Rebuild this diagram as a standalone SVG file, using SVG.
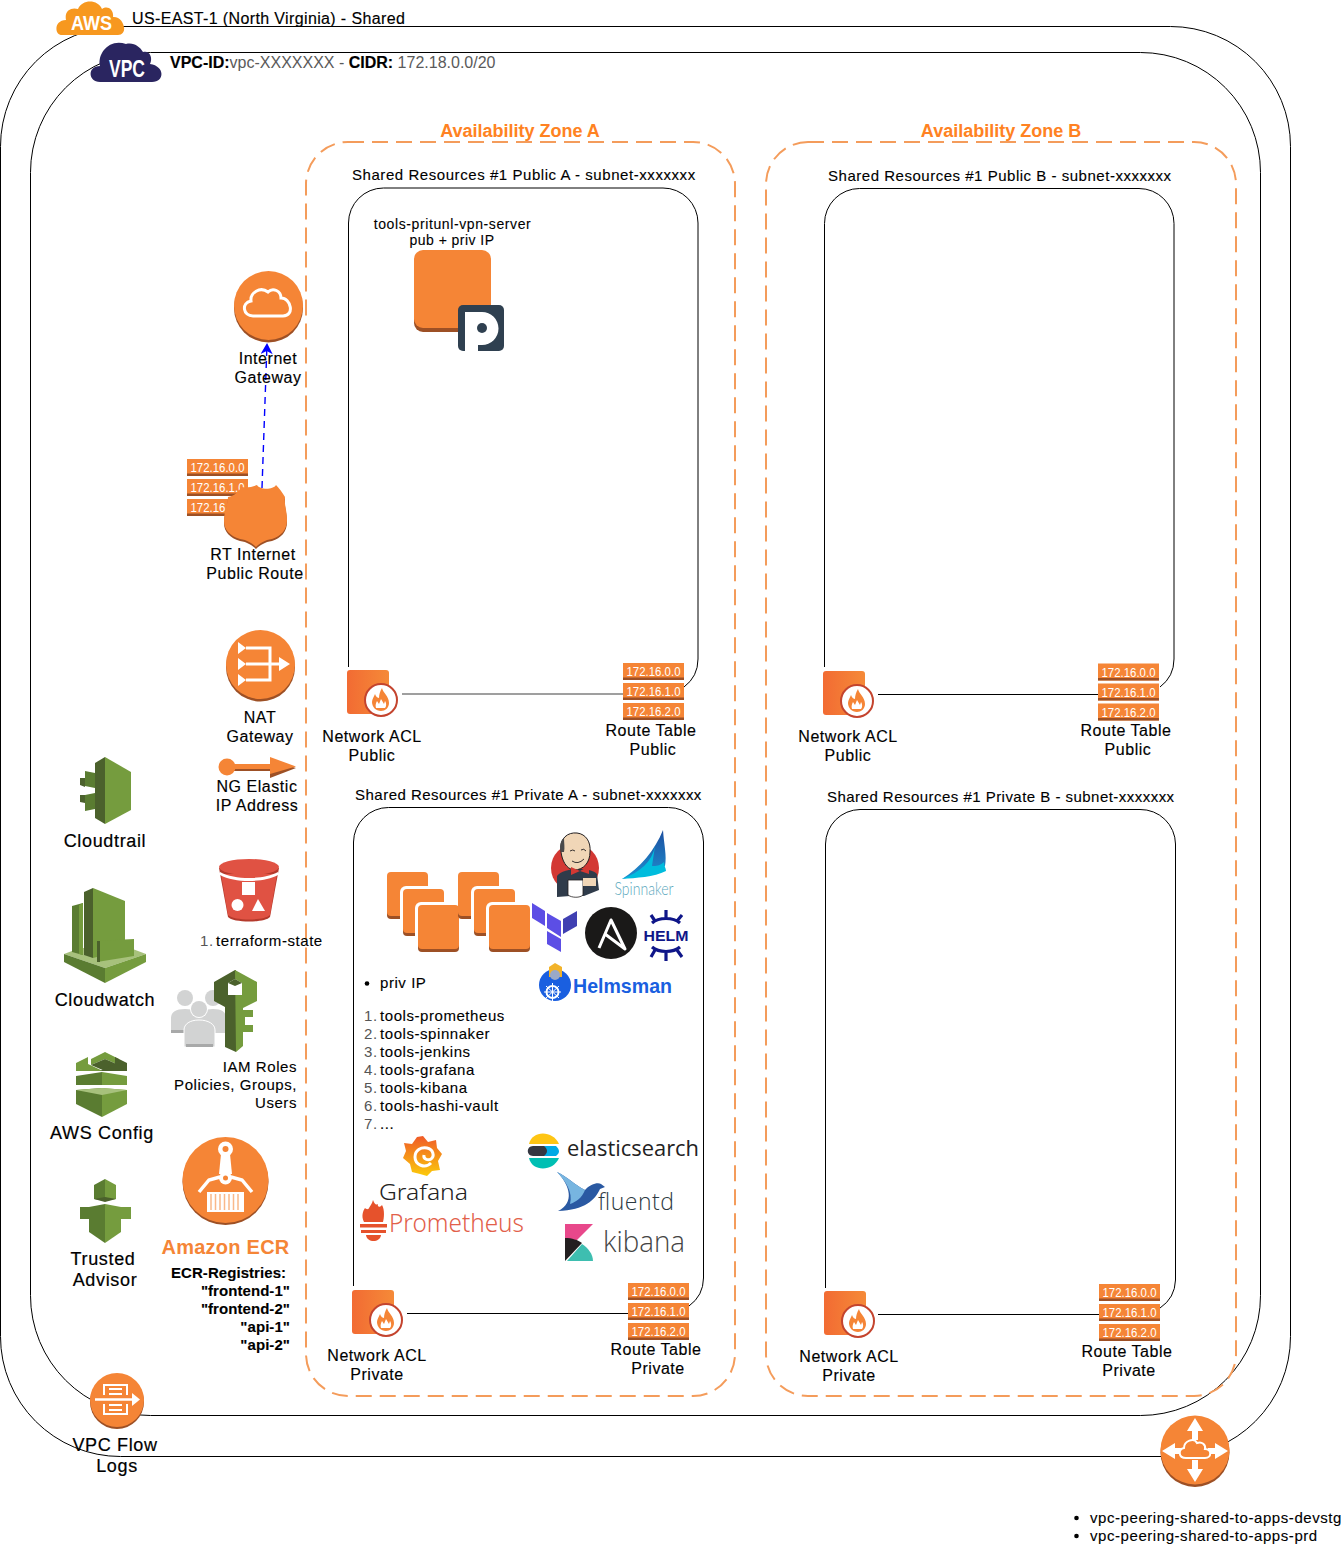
<svg xmlns="http://www.w3.org/2000/svg" xmlns:xlink="http://www.w3.org/1999/xlink" width="1341" height="1561" viewBox="0 0 1341 1561">
<style>
text{font-family:"Liberation Sans",Arial,sans-serif;fill:#000}
.l16{font-size:16px;letter-spacing:.55px;stroke:#000;stroke-width:.15px}
.l18{font-size:18px;letter-spacing:.65px;stroke:#000;stroke-width:.2px}
.l15{font-size:15px;letter-spacing:.56px;stroke:#000;stroke-width:.12px}
.l14{font-size:14px;letter-spacing:.6px;stroke:#000;stroke-width:.1px}
.m{text-anchor:middle}
.e{text-anchor:end}
.b{font-weight:bold}
.ip{font-size:12px;fill:#fff}
.az{font-size:18px;font-weight:bold;fill:#FF8222;text-anchor:middle}
.frame{fill:none;stroke:#000;stroke-width:1}
.dash{fill:none;stroke:#F49C5B;stroke-width:2;stroke-dasharray:16 8}
.or{fill:#F58536}.dk{fill:#9D5025}
.w{fill:#fff}.ws{fill:none;stroke:#fff}
.g1{fill:#759C3E}.g2{fill:#4B612C}.g3{fill:#5A7C31}.g4{fill:#A7C17C}
.u{fill:#D2D3D3}.u2{fill:#A8A9A9}
.n{fill:#555;stroke:none}
</style>
<defs>
<marker id="blueArrow" markerWidth="13" markerHeight="13" refX="10" refY="6" orient="auto" markerUnits="userSpaceOnUse"><path d="M0,0L11,6L0,12L3,6Z" fill="#00f"/></marker>
<linearGradient id="naclG" x1="0" x2="1" y1="0" y2="0"><stop offset="0" stop-color="#F26B33"/><stop offset="1" stop-color="#F58A38"/></linearGradient>
<linearGradient id="grafG" x1="0" x2="0" y1="0" y2="1"><stop offset="0" stop-color="#F05A28"/><stop offset="1" stop-color="#FBCA0A"/></linearGradient>
<linearGradient id="spinG" x1="0" x2="0" y1="0" y2="1"><stop offset="0" stop-color="#1D4FA0"/><stop offset="1" stop-color="#1E8FD0"/></linearGradient>
<g id="bars">
<rect width="61" height="17" class="or"/><rect y="14.500" width="61" height="2.500" class="dk"/>
<rect y="20" width="61" height="17" class="or"/><rect y="34.500" width="61" height="2.500" class="dk"/>
<rect y="40" width="61" height="17" class="or"/><rect y="54.500" width="61" height="2.500" class="dk"/>
</g>
<g id="nacl">
<rect width="42" height="44" rx="3" fill="url(#naclG)"/>
<circle cx="34" cy="30" r="16" fill="#fff" stroke="#C4442E" stroke-width="2"/>
<path d="M35,18C36,23 42,26 42,33C42,38 38,41 34,41C29,41 25,37 25,32C25,29 27,27 28,24C29,27 31,28 32,28C32,25 33,21 35,18Z" class="or"/>
<path d="M29,38C28,35 29,33 30,31L32,34L34,29L37,34L38,31C40,34 39,37 38,38Z" class="w"/>
</g>
<g id="ec2">
<rect y="3" width="41" height="44" rx="4" class="dk"/><rect width="41" height="44" rx="4" class="or"/>
</g>
<g id="ec2w">
<rect x="-3" y="-3" width="47" height="53" rx="6" class="w"/>
<use xlink:href="#ec2"/>
</g>
</defs>

<g id="containers">
<rect id="region-frame" class="frame" x=".5" y="26.5" width="1290" height="1430" rx="120" ry="120"/>
<rect id="vpc-frame" class="frame" x="30.5" y="52.5" width="1230" height="1363" rx="120" ry="120"/>
<rect id="az-a-frame" class="dash" x="306" y="142" width="429" height="1254" rx="42" ry="42"/>
<rect id="az-b-frame" class="dash" x="766" y="142" width="470" height="1254" rx="42" ry="42"/>
<path id="subnet-pub-a" class="frame" d="M348.500,667V223A35,35 0 0 1 383.500,188H663A35,35 0 0 1 698,223V659A35,35 0 0 1 684,687"/>
<path id="subnet-pub-b" class="frame" d="M824.500,667V223.500A35,35 0 0 1 859.500,188.500H1139A35,35 0 0 1 1174,223.500V659A35,35 0 0 1 1160,687"/>
<path id="subnet-priv-a" class="frame" d="M353.500,1286V842A35,35 0 0 1 388.500,807.500H668.500A35,35 0 0 1 703.500,842V1278A35,35 0 0 1 689,1306"/>
<path id="subnet-priv-b" class="frame" d="M825.500,1288V844A35,35 0 0 1 860,809.500H1140A35,35 0 0 1 1175.500,844V1280A35,35 0 0 1 1160,1308"/>
</g>

<g id="connectors">
<path d="M402,694H623" stroke="#000" stroke-opacity=".5" stroke-width="1.400" fill="none"/>
<path d="M878,694.500H1098" stroke="#000" fill="none"/>
<path d="M407,1313.500H628" stroke="#000" fill="none"/>
<path d="M878,1314.500H1100" stroke="#000" fill="none"/>
<path d="M262,488L267,344" stroke="#00f" stroke-width="1.400" stroke-dasharray="7 5" fill="none" marker-end="url(#blueArrow)"/>
</g>

<g id="region-node">
<path d="M62,35C54,35 54,20 66,20C64,10 72,7 78,9C82,-1 98,-1 102,9C108,5 114,10 113,17C124,16 129,35 118,35Z" fill="#F7981F"/>
<text x="71" y="30" font-size="21" class="b" style="fill:#fff" textLength="41" lengthAdjust="spacingAndGlyphs">AWS</text>
<text x="132" y="24" class="l16" style="letter-spacing:.37px">US-EAST-1 (North Virginia) - Shared</text>
</g>
<g id="vpc-node">
<path d="M100,82C88,82 87,66 100,66C97,53 110,38 126,44C134,42 140,47 143,52C150,50 153,58 150,64C165,66 165,82 152,82Z" fill="#2A2560"/>
<text x="109" y="77" font-size="23" class="b" style="fill:#fff" textLength="36" lengthAdjust="spacingAndGlyphs">VPC</text>
<text x="170" y="68" class="l16" style="letter-spacing:0"><tspan class="b">VPC-ID:</tspan><tspan style="fill:#5a5a5a;stroke:none">vpc-XXXXXXX - </tspan><tspan class="b">CIDR:</tspan><tspan style="fill:#5a5a5a;stroke:none"> 172.18.0.0/20</tspan></text>
</g>

<g id="igw">
<circle cx="268.500" cy="308" r="34.500" class="dk"/><circle cx="268.500" cy="305.500" r="34.500" class="or"/>
<path d="M253,316C243,316 241,303 251,301C250,293 260,286 268,292C273,287 281,291 281,298C291,298 295,316 283,316Z" class="ws" stroke-width="3"/>
<text x="268" y="364" class="l16 m">Internet</text><text x="268" y="383" class="l16 m">Gateway</text>
</g>

<g id="rt-internet">
<g transform="translate(187,459)"><use xlink:href="#bars"/><text x="3.500" y="13" class="ip" textLength="54" lengthAdjust="spacingAndGlyphs">172.16.0.0</text><text x="3.500" y="33" class="ip" textLength="54" lengthAdjust="spacingAndGlyphs">172.16.1.0</text><text x="3.500" y="53" class="ip" textLength="54" lengthAdjust="spacingAndGlyphs">172.16.2.0</text></g>
<path d="M228,499C234,498 239,494 241,489C247,490 252,489 257,487C260,492 273,492 276,487C279,490 282,494 285,499C284,506 287,513 287,522C287,532 281,538 272,541C265,542 260,545 256,549C252,545 247,542 240,541C230,538 224,532 224,523C224,513 228,506 228,499Z" class="dk"/>
<path d="M228,497C234,496 239,492 241,487C247,488 252,487 257,485C260,490 273,490 276,485C279,488 282,492 285,497C284,504 287,511 287,520C287,530 281,536 272,539C265,540 260,543 256,547C252,543 247,540 240,539C230,536 224,530 224,521C224,511 228,504 228,497Z" class="or"/>
<text x="253" y="560" class="l16 m">RT Internet</text><text x="255" y="579" class="l16 m">Public Route</text>
</g>

<g id="nat-gateway">
<circle cx="260.500" cy="667" r="34.500" class="dk"/><circle cx="260.500" cy="664.500" r="34.500" class="or"/>
<path d="M246,648H270V680H246M246,664H280" class="ws" stroke-width="3"/>
<path d="M238,642L246,648L238,654ZM238,658L246,664L238,670ZM238,674L246,680L238,686ZM279,657L290,664L279,671Z" class="w"/>
<text x="260" y="723" class="l16 m">NAT</text><text x="260" y="742" class="l16 m">Gateway</text>
</g>

<g id="eip">
<path d="M227,769H270V760L296,768L270,778V771H227Z" class="dk"/>
<circle cx="227" cy="767" r="8.500" class="or"/>
<rect x="227" y="764" width="44" height="5" class="or"/>
<path d="M270,757L296,766.500L270,774Z" class="or"/>
<text x="257" y="792" class="l16 m">NG Elastic</text><text x="257" y="811" class="l16 m">IP Address</text>
</g>

<g id="cloudtrail">
<path d="M105,757L131,772V810L105,824Z" class="g1"/><path d="M105,757L95,763V818L105,824Z" class="g2"/>
<path d="M85,771L95,773V788L85,786ZM85,795L95,793V809L85,811Z" class="g3"/>
<path d="M80,778L85,778V787L80,785ZM80,795L85,795V803L80,802Z" class="g2"/>
<text x="105" y="847" class="l18 m">Cloudtrail</text>
</g>

<g id="cloudwatch">
<path d="M64,954L80,948H130L146,954L105,968Z" class="g4"/>
<path d="M64,954L105,968V983L64,962Z" class="g3"/><path d="M146,954L105,968V983L146,962Z" class="g1"/>
<path d="M93,888L125,901V950L93,958Z" class="g1"/><path d="M93,888L84,892V955L93,958Z" class="g2"/>
<path d="M72,906L83,903V955L72,952Z" class="g3"/><path d="M79,905L83,903V955L79,954Z" class="g1"/>
<path d="M97,941L134,939V956L97,962Z" class="g1"/>
<path d="M97,941L100,941V962L97,962Z" class="g2"/>
<text x="105" y="1006" class="l18 m">Cloudwatch</text>
</g>

<g id="aws-config">
<path d="M105,1052L119,1059V1065L105,1059L91,1065V1059Z" class="g1"/><path d="M91,1065L105,1059L119,1065L105,1071Z" class="g2"/>
<path d="M76,1063L88,1057V1064L103,1071H76Z" class="g1"/><path d="M127,1063L115,1057V1064L100,1071H127Z" class="g2"/>
<path d="M76,1076L102,1072V1085H76Z" class="g3"/><path d="M127,1076L102,1072V1085H127Z" class="g1"/>
<path d="M76,1090L102,1088V1117L76,1104Z" class="g3"/><path d="M127,1090L102,1088V1117L127,1104Z" class="g1"/>
<path d="M76,1090L102,1088L127,1090L102,1095Z" class="g4"/>
<text x="102" y="1139" class="l18 m">AWS Config</text>
</g>

<g id="trusted-advisor">
<path d="M105,1179L94,1185V1199L105,1201Z" class="g3"/><path d="M105,1179L116,1185V1199L105,1201Z" class="g1"/>
<path d="M94,1199L105,1197L116,1199L105,1202Z" class="g2"/>
<path d="M105,1204L89,1207V1232L105,1243Z" class="g3"/><path d="M105,1204L121,1207V1232L105,1243Z" class="g1"/>
<path d="M80,1207H90V1219H80Z" class="g3"/><path d="M121,1207H131V1219H121Z" class="g1"/>
<text x="103" y="1265" class="l18 m">Trusted</text><text x="105" y="1286" class="l18 m">Advisor</text>
</g>

<g id="s3-state">
<path d="M219,868H279L270,917C265,923 233,923 228,917Z" fill="#B43A2C"/>
<path d="M221,874H277L270,915C264,921 234,921 228,915Z" fill="#E05243"/>
<path d="M220,872C235,880 263,880 278,872V875C263,883 235,883 220,875Z" class="w"/>
<ellipse cx="249" cy="867" rx="30" ry="8" fill="#E05243"/>
<rect x="242" y="882" width="13" height="13" class="w"/><circle cx="237.500" cy="905" r="6" class="w"/><path d="M258,899L265,911H252Z" class="w"/>
<text y="946" class="l15"><tspan x="200" class="n">1.</tspan><tspan x="216">terraform-state</tspan></text>
</g>

<g id="iam">
<circle cx="185" cy="998" r="8" class="u"/><circle cx="213" cy="998" r="8" class="u"/>
<path d="M171,1033V1018C171,1012 176,1009 185,1009C194,1009 200,1012 200,1018V1033Z" class="u"/><path d="M171,1030H186V1033H171Z" class="u2"/>
<path d="M200,1033V1018C200,1012 205,1009 213,1009C222,1009 226,1012 226,1018V1033Z" class="u"/>
<circle cx="199" cy="1009" r="9" fill="#fff"/><circle cx="199" cy="1009" r="8" class="u"/>
<path d="M184,1047V1030C184,1024 190,1020 199,1020C208,1020 215,1024 215,1030V1047Z" class="u" stroke="#fff"/><path d="M186,1044H213V1047H186Z" class="u2"/>
<path d="M235,970L214,982V1001L225,1007V1047L236,1052V970Z" class="g2"/>
<path d="M235,970L257,982V1001L243,1008V1010H253V1017H245V1025H253V1032H243V1046L236,1052Z" class="g1"/>
<path d="M228,983L235,979L242,983V995H228Z" fill="#fff"/>
<path d="M228,983L235,979L242,983L235,986Z" class="g2"/>
<text x="297" y="1072" class="l15 e">IAM Roles</text><text x="297" y="1090" class="l15 e">Policies, Groups,</text><text x="297" y="1108" class="l15 e">Users</text>
</g>

<g id="ecr">
<circle cx="225.500" cy="1182" r="43" class="dk"/><circle cx="225.500" cy="1180" r="43" class="or"/>
<path d="M221,1154H230L232,1174H219Z" class="w"/>
<circle cx="225.500" cy="1149" r="7.500" class="w"/><circle cx="225.500" cy="1149" r="3" class="or"/>
<circle cx="225.500" cy="1178" r="6.500" class="w"/><circle cx="225.500" cy="1178" r="2.500" class="or"/>
<path d="M199,1192L209,1180L220,1177M252,1192L242,1180L231,1177" class="ws" stroke-width="3.500"/>
<rect x="207" y="1192" width="37" height="20" class="w"/>
<path d="M211,1194V1210M215.500,1194V1210M220,1194V1210M224.500,1194V1210M229,1194V1210M233.500,1194V1210M238,1194V1210" stroke="#F9B98A" stroke-width="1.500"/>
<text x="225.500" y="1254" font-size="20" class="b m" style="fill:#F58536;letter-spacing:.25px">Amazon ECR</text>
<g class="l15 b" style="letter-spacing:.06px">
<text x="171" y="1278">ECR-Registries:</text>
<text x="290" y="1296" class="e">"frontend-1"</text>
<text x="290" y="1314" class="e">"frontend-2"</text>
<text x="290" y="1332" class="e">"api-1"</text>
<text x="290" y="1350" class="e">"api-2"</text>
</g>
</g>

<g id="flow-logs">
<circle cx="117" cy="1402" r="27" class="dk"/><circle cx="117" cy="1400" r="27" class="or"/>
<path d="M104,1395V1385H127V1395M104,1404V1414H127V1404" class="ws" stroke-width="2"/>
<path d="M109,1389H122M109,1394H122M109,1405H122M109,1410H122" class="ws" stroke-width="2"/>
<path d="M95,1399.500H133" class="ws" stroke-width="2.500"/><path d="M132,1393L140,1399.500L132,1406Z" class="w"/>
<text x="115" y="1451" class="l18 m">VPC Flow</text><text x="117" y="1472" class="l18 m">Logs</text>
</g>

<g id="peering">
<circle cx="1195" cy="1452.500" r="34.500" class="dk"/><circle cx="1195" cy="1450" r="34.500" class="or"/>
<path d="M1192,1430H1198V1440H1192ZM1192,1460H1198V1474H1192ZM1171,1448H1182V1454H1171ZM1208,1448H1220V1454H1208Z" class="w"/>
<path d="M1195,1418L1203,1431H1187ZM1195,1482L1187,1469H1203ZM1162,1451L1175,1443V1459ZM1228,1451L1215,1443V1459Z" class="w"/>
<path d="M1186,1458C1178,1458 1178,1449 1184,1448C1184,1441 1194,1437 1197,1443C1202,1441 1206,1445 1205,1449C1212,1449 1212,1458 1205,1458Z" fill="#F58536" stroke="#fff" stroke-width="2"/>
<circle cx="1076.500" cy="1518" r="2.300"/><circle cx="1076.500" cy="1536" r="2.300"/>
<text x="1090" y="1523" class="l15">vpc-peering-shared-to-apps-devstg</text>
<text x="1090" y="1541" class="l15">vpc-peering-shared-to-apps-prd</text>
</g>

<text x="520" y="137" class="az">Availability Zone A</text>
<text x="1001" y="137" class="az">Availability Zone B</text>

<g id="subnet-labels">
<text x="352" y="180" class="l15">Shared Resources #1 Public A - subnet-xxxxxxx</text>
<text x="828" y="181" class="l15" style="letter-spacing:.52px">Shared Resources #1 Public B - subnet-xxxxxxx</text>
<text x="355" y="800" class="l15" style="letter-spacing:.49px">Shared Resources #1 Private A - subnet-xxxxxxx</text>
<text x="827" y="802" class="l15" style="letter-spacing:.47px">Shared Resources #1 Private B - subnet-xxxxxxx</text>
</g>

<g id="vpn-server">
<text x="452.500" y="229" class="l14 m">tools-pritunl-vpn-server</text>
<text x="452" y="245" class="l14 m" style="letter-spacing:.45px">pub + priv IP</text>
<rect x="414" y="253" width="77" height="79" rx="9" class="dk"/><rect x="414" y="250" width="77" height="78" rx="9" class="or"/>
<rect x="458" y="305" width="46" height="46" rx="5" fill="#2F4050"/>
<path d="M465,312H482A16.500,16.500 0 0 1 482,345H478V351H465Z" class="w"/><circle cx="482" cy="328" r="5" fill="#2F4050"/>
</g>

<g id="acl-pub-a"><use xlink:href="#nacl" x="347" y="670"/><text x="372" y="742" class="l16 m">Network ACL</text><text x="372" y="761" class="l16 m">Public</text></g>
<g id="acl-pub-b"><use xlink:href="#nacl" x="823" y="671"/><text x="848" y="742" class="l16 m">Network ACL</text><text x="848" y="761" class="l16 m">Public</text></g>
<g id="acl-priv-a"><use xlink:href="#nacl" x="352" y="1290"/><text x="377" y="1361" class="l16 m">Network ACL</text><text x="377" y="1380" class="l16 m">Private</text></g>
<g id="acl-priv-b"><use xlink:href="#nacl" x="824" y="1291"/><text x="849" y="1362" class="l16 m">Network ACL</text><text x="849" y="1381" class="l16 m">Private</text></g>

<g id="rt-pub-a"><g transform="translate(623,663)"><use xlink:href="#bars"/><text x="3.500" y="13" class="ip" textLength="54" lengthAdjust="spacingAndGlyphs">172.16.0.0</text><text x="3.500" y="33" class="ip" textLength="54" lengthAdjust="spacingAndGlyphs">172.16.1.0</text><text x="3.500" y="53" class="ip" textLength="54" lengthAdjust="spacingAndGlyphs">172.16.2.0</text></g><text x="651" y="736" class="l16 m">Route Table</text><text x="653" y="755" class="l16 m">Public</text></g>
<g id="rt-pub-b"><g transform="translate(1098,663.500)"><use xlink:href="#bars"/><text x="3.500" y="13" class="ip" textLength="54" lengthAdjust="spacingAndGlyphs">172.16.0.0</text><text x="3.500" y="33" class="ip" textLength="54" lengthAdjust="spacingAndGlyphs">172.16.1.0</text><text x="3.500" y="53" class="ip" textLength="54" lengthAdjust="spacingAndGlyphs">172.16.2.0</text></g><text x="1126" y="736" class="l16 m">Route Table</text><text x="1128" y="755" class="l16 m">Public</text></g>
<g id="rt-priv-a"><g transform="translate(628,1283)"><use xlink:href="#bars"/><text x="3.500" y="13" class="ip" textLength="54" lengthAdjust="spacingAndGlyphs">172.16.0.0</text><text x="3.500" y="33" class="ip" textLength="54" lengthAdjust="spacingAndGlyphs">172.16.1.0</text><text x="3.500" y="53" class="ip" textLength="54" lengthAdjust="spacingAndGlyphs">172.16.2.0</text></g><text x="656" y="1355" class="l16 m">Route Table</text><text x="658" y="1374" class="l16 m">Private</text></g>
<g id="rt-priv-b"><g transform="translate(1099,1284)"><use xlink:href="#bars"/><text x="3.500" y="13" class="ip" textLength="54" lengthAdjust="spacingAndGlyphs">172.16.0.0</text><text x="3.500" y="33" class="ip" textLength="54" lengthAdjust="spacingAndGlyphs">172.16.1.0</text><text x="3.500" y="53" class="ip" textLength="54" lengthAdjust="spacingAndGlyphs">172.16.2.0</text></g><text x="1127" y="1357" class="l16 m">Route Table</text><text x="1129" y="1376" class="l16 m">Private</text></g>

<g id="ec2-instances">
<use xlink:href="#ec2" x="387" y="872"/><use xlink:href="#ec2w" x="403" y="889"/><use xlink:href="#ec2w" x="418" y="905"/>
<use xlink:href="#ec2" x="458" y="872"/><use xlink:href="#ec2w" x="474" y="889"/><use xlink:href="#ec2w" x="489" y="905"/>
</g>

<g id="tools-list">
<circle cx="367" cy="983.500" r="2.300"/>
<text x="380" y="988" class="l15">priv IP</text>
<g style="letter-spacing:.72px">
<text y="1021" class="l15"><tspan x="364" class="n">1.</tspan><tspan x="380">tools-prometheus</tspan></text>
<text y="1039" class="l15"><tspan x="364" class="n">2.</tspan><tspan x="380">tools-spinnaker</tspan></text>
<text y="1057" class="l15"><tspan x="364" class="n">3.</tspan><tspan x="380">tools-jenkins</tspan></text>
<text y="1075" class="l15"><tspan x="364" class="n">4.</tspan><tspan x="380">tools-grafana</tspan></text>
<text y="1093" class="l15"><tspan x="364" class="n">5.</tspan><tspan x="380">tools-kibana</tspan></text>
<text y="1111" class="l15"><tspan x="364" class="n">6.</tspan><tspan x="380">tools-hashi-vault</tspan></text>
<text y="1129" class="l15"><tspan x="364" class="n">7.</tspan><tspan x="380">...</tspan></text>
</g>
</g>

<g id="jenkins">
<circle cx="575" cy="868" r="24" fill="#D33833"/>
<path d="M557,897V876C562,868 590,866 597,874L599,890L584,896H570Z" fill="#2F3B4A"/>
<path d="M561,852C559,838 568,832 577,833C586,834 591,842 590,852C590,862 584,870 574,870C566,869 562,860 561,852Z" fill="#F0D6B7" stroke="#231F20" stroke-width="1"/>
<path d="M561,852C559,845 561,840 564,838C564,843 565,848 564,852Z" fill="#49494A"/>
<path d="M570,851Q573,849 575,851M581,850Q584,848 586,851M572,861Q578,865 584,859" fill="none" stroke="#231F20" stroke-width=".9"/>
<path d="M580,871L589,866V874ZM580,871L571,867V875Z" fill="#D33833"/>
<path d="M568,880H583V895C580,898 572,898 568,895Z" class="w" stroke="#231F20" stroke-width=".8"/>
<path d="M583,878H596V886H583Z" fill="#F0D6B7"/>
</g>
<g id="spinnaker">
<path d="M663,830C664,845 667,856 665,866C650,872 636,876 622,879C640,868 655,850 663,830Z" fill="url(#spinG)"/>
<path d="M655,846C652,862 640,872 622,879C636,878 654,877 666,871C666,868 664,866 664,862C660,866 656,866 652,866Z" fill="#00BCDD"/>
<text x="614.500" y="895" font-size="17" style="font-family:Lato,'Liberation Sans',sans-serif;fill:#5BA8BD;font-weight:300" textLength="59" lengthAdjust="spacingAndGlyphs">Spinnaker</text>
</g>
<g id="terraform">
<path d="M532,903L545,911V926L532,918ZM547,913L561,921V937L547,928ZM547,931L561,939V952L547,944Z" fill="#5C4EE5"/>
<path d="M577,911L563,919V934L577,926Z" fill="#4040B2"/>
</g>
<g id="ansible">
<circle cx="611" cy="933" r="26" fill="#1A1918"/>
<path d="M599,948L611,920L625,949L605,934" fill="none" stroke="#fff" stroke-width="3" stroke-linejoin="round"/>
</g>
<g id="helm">
<path d="M652,923C659,917 673,917 680,923M651,915L655,921M666,910V918M682,915L677,921M652,947C659,953 673,953 680,947M651,957L655,950M666,961V952M682,957L677,950" fill="none" stroke="#0F1689" stroke-width="3.200"/>
<text x="643.500" y="941" font-size="15.500" class="b" style="fill:#0F1689" textLength="45" lengthAdjust="spacingAndGlyphs">HELM</text>
</g>
<g id="helmsman">
<circle cx="555" cy="985" r="16" fill="#1A5FE0"/>
<path d="M549,977V967L555,963L562,967V977Z" fill="#F2B32A"/>
<circle cx="555" cy="975" r="5" fill="#9AA9C8"/>
<circle cx="552.500" cy="992" r="6" fill="none" stroke="#fff" stroke-width="2"/>
<path d="M552.500,983V1001M544,992H561M546,986L559,998M559,986L546,998" stroke="#fff" stroke-width="1"/>
<text x="573" y="993" font-size="21" class="b" style="fill:#1A5FE0" textLength="99" lengthAdjust="spacingAndGlyphs">Helmsman</text>
</g>
<g id="grafana">
<path d="M423,1136L428,1142L436,1140L437,1148L442,1154L438,1161L440,1170L432,1171L427,1176L420,1174L412,1172L410,1164L403,1158L406,1151L404,1143L412,1144L417,1137Z" fill="url(#grafG)"/>
<path d="M431,1163C425,1169 415,1165 415,1157C415,1150 421,1147 427,1148C433,1149 435,1156 431,1159C428,1161 423,1159 424,1155" fill="none" stroke="#fff" stroke-width="3"/>
<text x="379" y="1200" font-size="22" style="font-family:'Noto Sans','Liberation Sans',sans-serif;fill:#222;font-weight:300" textLength="89" lengthAdjust="spacingAndGlyphs">Grafana</text>
</g>
<g id="prometheus">
<path d="M373,1200C375,1205 376,1205 378,1204C377,1207 380,1208 382,1205C385,1210 384,1219 383,1222H364C361,1216 363,1211 365,1208C366,1209 368,1210 369,1208C370,1206 372,1204 373,1200Z" fill="#E6522C"/>
<rect x="360" y="1224" width="27" height="3.500" fill="#E6522C"/><rect x="361" y="1230" width="25" height="3" fill="#E6522C"/>
<path d="M366,1235H381C380,1243 367,1243 366,1235Z" fill="#E6522C"/>
<text x="389" y="1232" font-size="25" style="font-family:'Noto Sans','Liberation Sans',sans-serif;fill:#E2604A;font-weight:300" textLength="135" lengthAdjust="spacingAndGlyphs">Prometheus</text>
</g>
<g id="elasticsearch">
<path d="M529,1144C532,1130 553,1130 559,1144Z" fill="#FEC514"/>
<path d="M533,1146H544C553,1146 553,1156 544,1156H533C526,1156 526,1146 533,1146Z" fill="#343741"/>
<path d="M544,1146H556C560,1150 560,1153 556,1156H544C548,1153 548,1149 544,1146Z" fill="#00A9E5"/>
<path d="M529,1158C532,1172 553,1172 559,1158Z" fill="#00BFB3"/>
<text x="567" y="1156" font-size="22" style="font-family:'Open Sans','Liberation Sans',sans-serif;fill:#222" textLength="132" lengthAdjust="spacingAndGlyphs">elasticsearch</text>
</g>
<g id="fluentd">
<path d="M557,1172C565,1175 575,1185 585,1190C590,1184 598,1182 601,1184L605,1187L600,1189C595,1200 585,1210 558,1211C575,1203 570,1185 557,1172Z" fill="#2A59A2"/>
<path d="M557,1172C565,1175 575,1185 585,1190C582,1198 576,1202 570,1204C573,1192 566,1182 557,1172Z" fill="#77B5E0"/>
<text x="598" y="1210" font-size="23" style="font-family:'Open Sans','Liberation Sans',sans-serif;fill:#2D3A42;font-weight:300" textLength="76">fluentd</text>
</g>
<g id="kibana">
<path d="M565,1224H593L565,1252Z" fill="#E8488B"/>
<path d="M565,1238C572,1238 578,1240 582,1243L565,1261Z" fill="#231F20"/>
<path d="M567,1261L582,1244C588,1248 593,1254 593,1261Z" fill="#3EBEB0"/>
<text x="603" y="1252" font-size="29" style="font-family:'Open Sans','Liberation Sans',sans-serif;fill:#444;font-weight:300" textLength="82" lengthAdjust="spacingAndGlyphs">kibana</text>
</g>
</svg>
